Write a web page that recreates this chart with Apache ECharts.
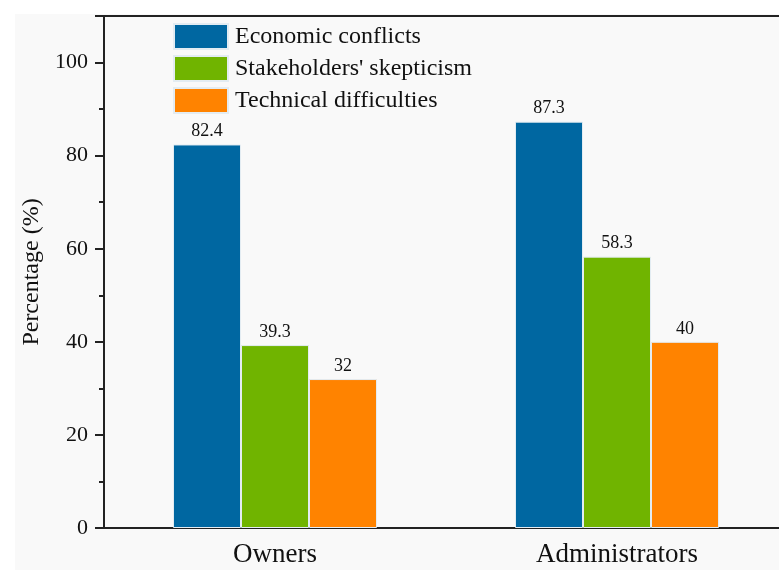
<!DOCTYPE html>
<html>
<head>
<meta charset="utf-8">
<script src="https://cdn.jsdelivr.net/npm/echarts@6/dist/echarts.min.js"></script>
<style>
  html, body { margin: 0; padding: 0; background: #fff; }
  #chart { width: 779px; height: 570px; }
</style>
</head>
<body>
<div id="chart"></div>
<script>
// values
const groups = ['Owners', 'Administrators'];
const seriesNames = ['Economic conflicts', "Stakeholders' skepticism", 'Technical difficulties'];
const economic = [82.4, 87.3];
const skepticism = [39.3, 58.3];
const technical = [32, 40];
const colors = ['#0067a1', '#70b400', '#ff8300'];

const font = '"Liberation Serif", "Times New Roman", serif';

function bar(name, data, color) {
    return {
        name: name,
        type: 'bar',
        data: data,
        barWidth: 68,
        barGap: '0%',
        itemStyle: { color: color, borderColor: '#e3ecf2', borderWidth: 1 },
        label: {
            show: true,
            position: 'top',
            distance: 4,
            color: '#111',
            fontFamily: font,
            fontSize: 18
        }
    };
}

const chart = echarts.init(document.getElementById('chart'));
chart.setOption({
    backgroundColor: '#fff',
    animation: false,
    graphic: [{
        type: 'rect',
        left: 15, top: 14,
        shape: { width: 779, height: 570 },
        style: { fill: '#f9f9f9' },
        z: -10
    }],
    color: colors,
    legend: {
        left: 173, top: 23,
        padding: 0,
        orient: 'vertical',
        itemWidth: 54,
        itemHeight: 25,
        itemGap: 5,
        icon: 'rect',
        textStyle: { fontFamily: font, fontSize: 24, color: '#111', padding: [0, 0, 0, 2] },
        data: seriesNames
    },
    grid: {
        left: 104, top: 16, bottom: 42, width: 684,
        outerBoundsMode: 'none',
        containLabel: false,
        show: true, borderColor: '#222', borderWidth: 2, backgroundColor: 'transparent'
    },
    xAxis: {
        type: 'category',
        data: groups,
        axisLine: { lineStyle: { color: '#222', width: 2 } },
        axisTick: { alignWithLabel: true, length: 8, lineStyle: { color: '#222', width: 2 } },
        axisLabel: { color: '#111', fontFamily: font, fontSize: 27, margin: 13 }
    },
    yAxis: {
        type: 'value',
        min: 0, max: 110, interval: 20,
        name: 'Percentage (%)',
        nameLocation: 'middle',
        nameGap: 60,
        nameTextStyle: { color: '#111', fontFamily: font, fontSize: 24 },
        splitLine: { show: false },
        axisLine: { show: true, lineStyle: { color: '#222', width: 2 } },
        axisTick: { show: true, length: 9, lineStyle: { color: '#222', width: 2 } },
        minorTick: { show: true, splitNumber: 2, length: 5, lineStyle: { color: '#222', width: 2 } },
        axisLabel: {
            color: '#111', fontFamily: font, fontSize: 22, margin: 16,
            formatter: v => (v > 100 ? '' : v)
        }
    },
    series: [
        bar(seriesNames[0], economic, colors[0]),
        bar(seriesNames[1], skepticism, colors[1]),
        bar(seriesNames[2], technical, colors[2])
    ]
});
</script>
</body>
</html>
